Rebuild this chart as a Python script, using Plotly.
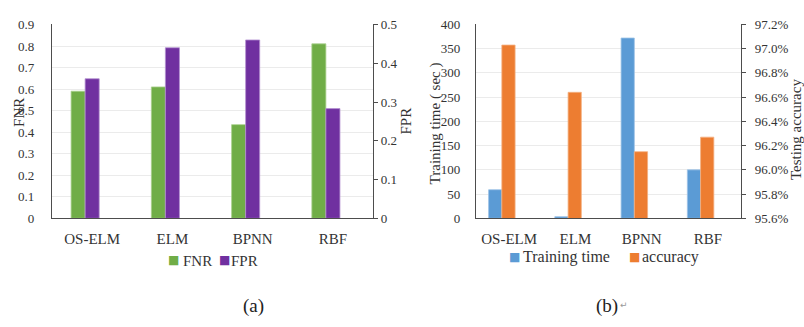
import plotly.graph_objects as go

# ---- data ----
models = ["OS-ELM", "ELM", "BPNN", "RBF"]
fnr = [0.59, 0.61, 0.435, 0.81]
fpr = [0.36, 0.44, 0.46, 0.283]
train_time = [59, 3.5, 372, 100]
accuracy = [0.9703, 0.9664, 0.9615, 0.9627]

FONT = "Liberation Serif, Times New Roman, serif"
TXT = "#333333"
AX = "#4d4d4d"
GRID = "#ebebeb"
C_FNR, C_FPR, C_TT, C_ACC = "#70AD47", "#7030A0", "#5B9BD5", "#ED7D31"

fig = go.Figure()

# (a)
fig.add_trace(go.Bar(x=models, y=fnr, name="FNR", marker=dict(color=C_FNR, line=dict(color="#a9d18e", width=0.8)),
                     xaxis="x", yaxis="y", width=0.175, offset=-0.262, showlegend=False))
fig.add_trace(go.Bar(x=models, y=fpr, name="FPR", marker=dict(color=C_FPR, line=dict(color="#b48fd0", width=0.8)),
                     xaxis="x", yaxis="y2", width=0.175, offset=-0.087, showlegend=False))
# (b)
fig.add_trace(go.Bar(x=models, y=train_time, name="Training time", marker=dict(color=C_TT, line=dict(color="#9dc3e6", width=0.8)),
                     xaxis="x2", yaxis="y3", width=0.2, offset=-0.31, showlegend=False))
fig.add_trace(go.Bar(x=models, y=accuracy, name="accuracy", marker=dict(color=C_ACC, line=dict(color="#f4b183", width=0.8)),
                     xaxis="x2", yaxis="y4", width=0.2, offset=-0.11, showlegend=False))

yb, yt = 1 - 221.5 / 327, 1 - 18.3 / 327
tickfont = dict(family=FONT, size=13, color=TXT)
catfont = dict(family=FONT, size=15, color=TXT)

fig.update_layout(
    width=804, height=327,
    margin=dict(l=0, r=0, t=0, b=0),
    paper_bgcolor="white", plot_bgcolor="white",
    barmode="overlay",
    font=dict(family=FONT, color=TXT),
    xaxis=dict(domain=[52 / 804, 373 / 804], anchor="y", range=[-0.5, 3.5], showline=True, linecolor=AX, linewidth=1.2,
               tickfont=catfont, ticks="", ticklabelstandoff=7, showgrid=False),
    yaxis=dict(domain=[yb, yt], anchor="x", range=[0, 0.9], dtick=0.1, showline=True, linecolor=AX, linewidth=1.2,
               gridcolor=GRID, showgrid=True, zeroline=False, tickfont=tickfont, ticks="", ticklabelstandoff=14),
    yaxis2=dict(overlaying="y", side="right", anchor="x", range=[0, 0.5], dtick=0.1, showline=True, linecolor=AX,
                linewidth=1.2, showgrid=False, zeroline=False, ticks="outside", ticklen=4, tickcolor=AX,
                tickfont=tickfont, ticklabelstandoff=0),
    xaxis2=dict(domain=[476 / 804, 741 / 804], anchor="y3", range=[-0.5, 3.5], showline=True, linecolor=AX, linewidth=1.2,
                tickfont=catfont, ticks="", ticklabelstandoff=7, showgrid=False),
    yaxis3=dict(domain=[yb, yt], anchor="x2", range=[0, 400], dtick=50, showline=True, linecolor=AX, linewidth=1.2,
                gridcolor=GRID, showgrid=True, zeroline=False, tickfont=tickfont, ticks="", ticklabelstandoff=12),
    yaxis4=dict(overlaying="y3", side="right", anchor="x2", range=[0.956, 0.972], dtick=0.002, tickformat=".1%",
                showline=True, linecolor=AX, linewidth=1.2, showgrid=False, zeroline=False, ticks="outside",
                ticklen=4, tickcolor=AX, tickfont=tickfont, ticklabelstandoff=6),
)

sq = dict(family="DejaVu Sans", size=12)
ann = [
    # legend (a)
    dict(text="■", x=173 / 804, y=1 - 265.5 / 327, font=dict(sq, color=C_FNR), xanchor="center"),
    dict(text="FNR", x=181 / 804, y=1 - 266 / 327, font=dict(family=FONT, size=15, color=TXT), xanchor="left"),
    dict(text="■", x=224 / 804, y=1 - 265.5 / 327, font=dict(sq, color=C_FPR), xanchor="center"),
    dict(text="FPR", x=229 / 804, y=1 - 266 / 327, font=dict(family=FONT, size=15, color=TXT), xanchor="left"),
    # legend (b)
    dict(text="■", x=514 / 804, y=1 - 262 / 327, font=dict(sq, color=C_TT), xanchor="center"),
    dict(text="Training time", x=521 / 804, y=1 - 262 / 327, font=dict(family=FONT, size=16, color=TXT), xanchor="left"),
    dict(text="■", x=634 / 804, y=1 - 262 / 327, font=dict(sq, color=C_ACC), xanchor="center"),
    dict(text="accuracy", x=640 / 804, y=1 - 262 / 327, font=dict(family=FONT, size=16, color=TXT), xanchor="left"),
    # axis titles
    dict(text="FNR", x=19 / 804, y=1 - 111 / 327, textangle=-90, font=dict(family=FONT, size=15, color=TXT)),
    dict(text="FPR", x=406 / 804, y=1 - 120 / 327, textangle=-90, font=dict(family=FONT, size=15, color=TXT)),
    dict(text="Training time ( sec )", x=435 / 804, y=1 - 122 / 327, textangle=-90,
         font=dict(family=FONT, size=15, color=TXT)),
    dict(text="Testing accuracy", x=796 / 804, y=1 - 129 / 327, textangle=-90,
         font=dict(family=FONT, size=15, color=TXT)),
    # captions
    dict(text="(a)", x=253 / 804, y=1 - 313 / 327, font=dict(family=FONT, size=19, color="#222")),
    dict(text="(b)", x=607 / 804, y=1 - 313 / 327, font=dict(family=FONT, size=19, color="#222")),
    dict(text="↵", x=624 / 804, y=1 - 312 / 327, font=dict(family="DejaVu Sans", size=9, color="#999")),
]
for a in ann:
    a.setdefault("xanchor", "center")
    a.update(xref="paper", yref="paper", showarrow=False, yanchor="middle")
fig.update_layout(annotations=ann)

fig.write_html("out.html",
               config={"displayModeBar": False},
               post_script="document.body.style.margin='0';document.body.style.padding='0';"
                           "document.documentElement.style.overflow='hidden';")
